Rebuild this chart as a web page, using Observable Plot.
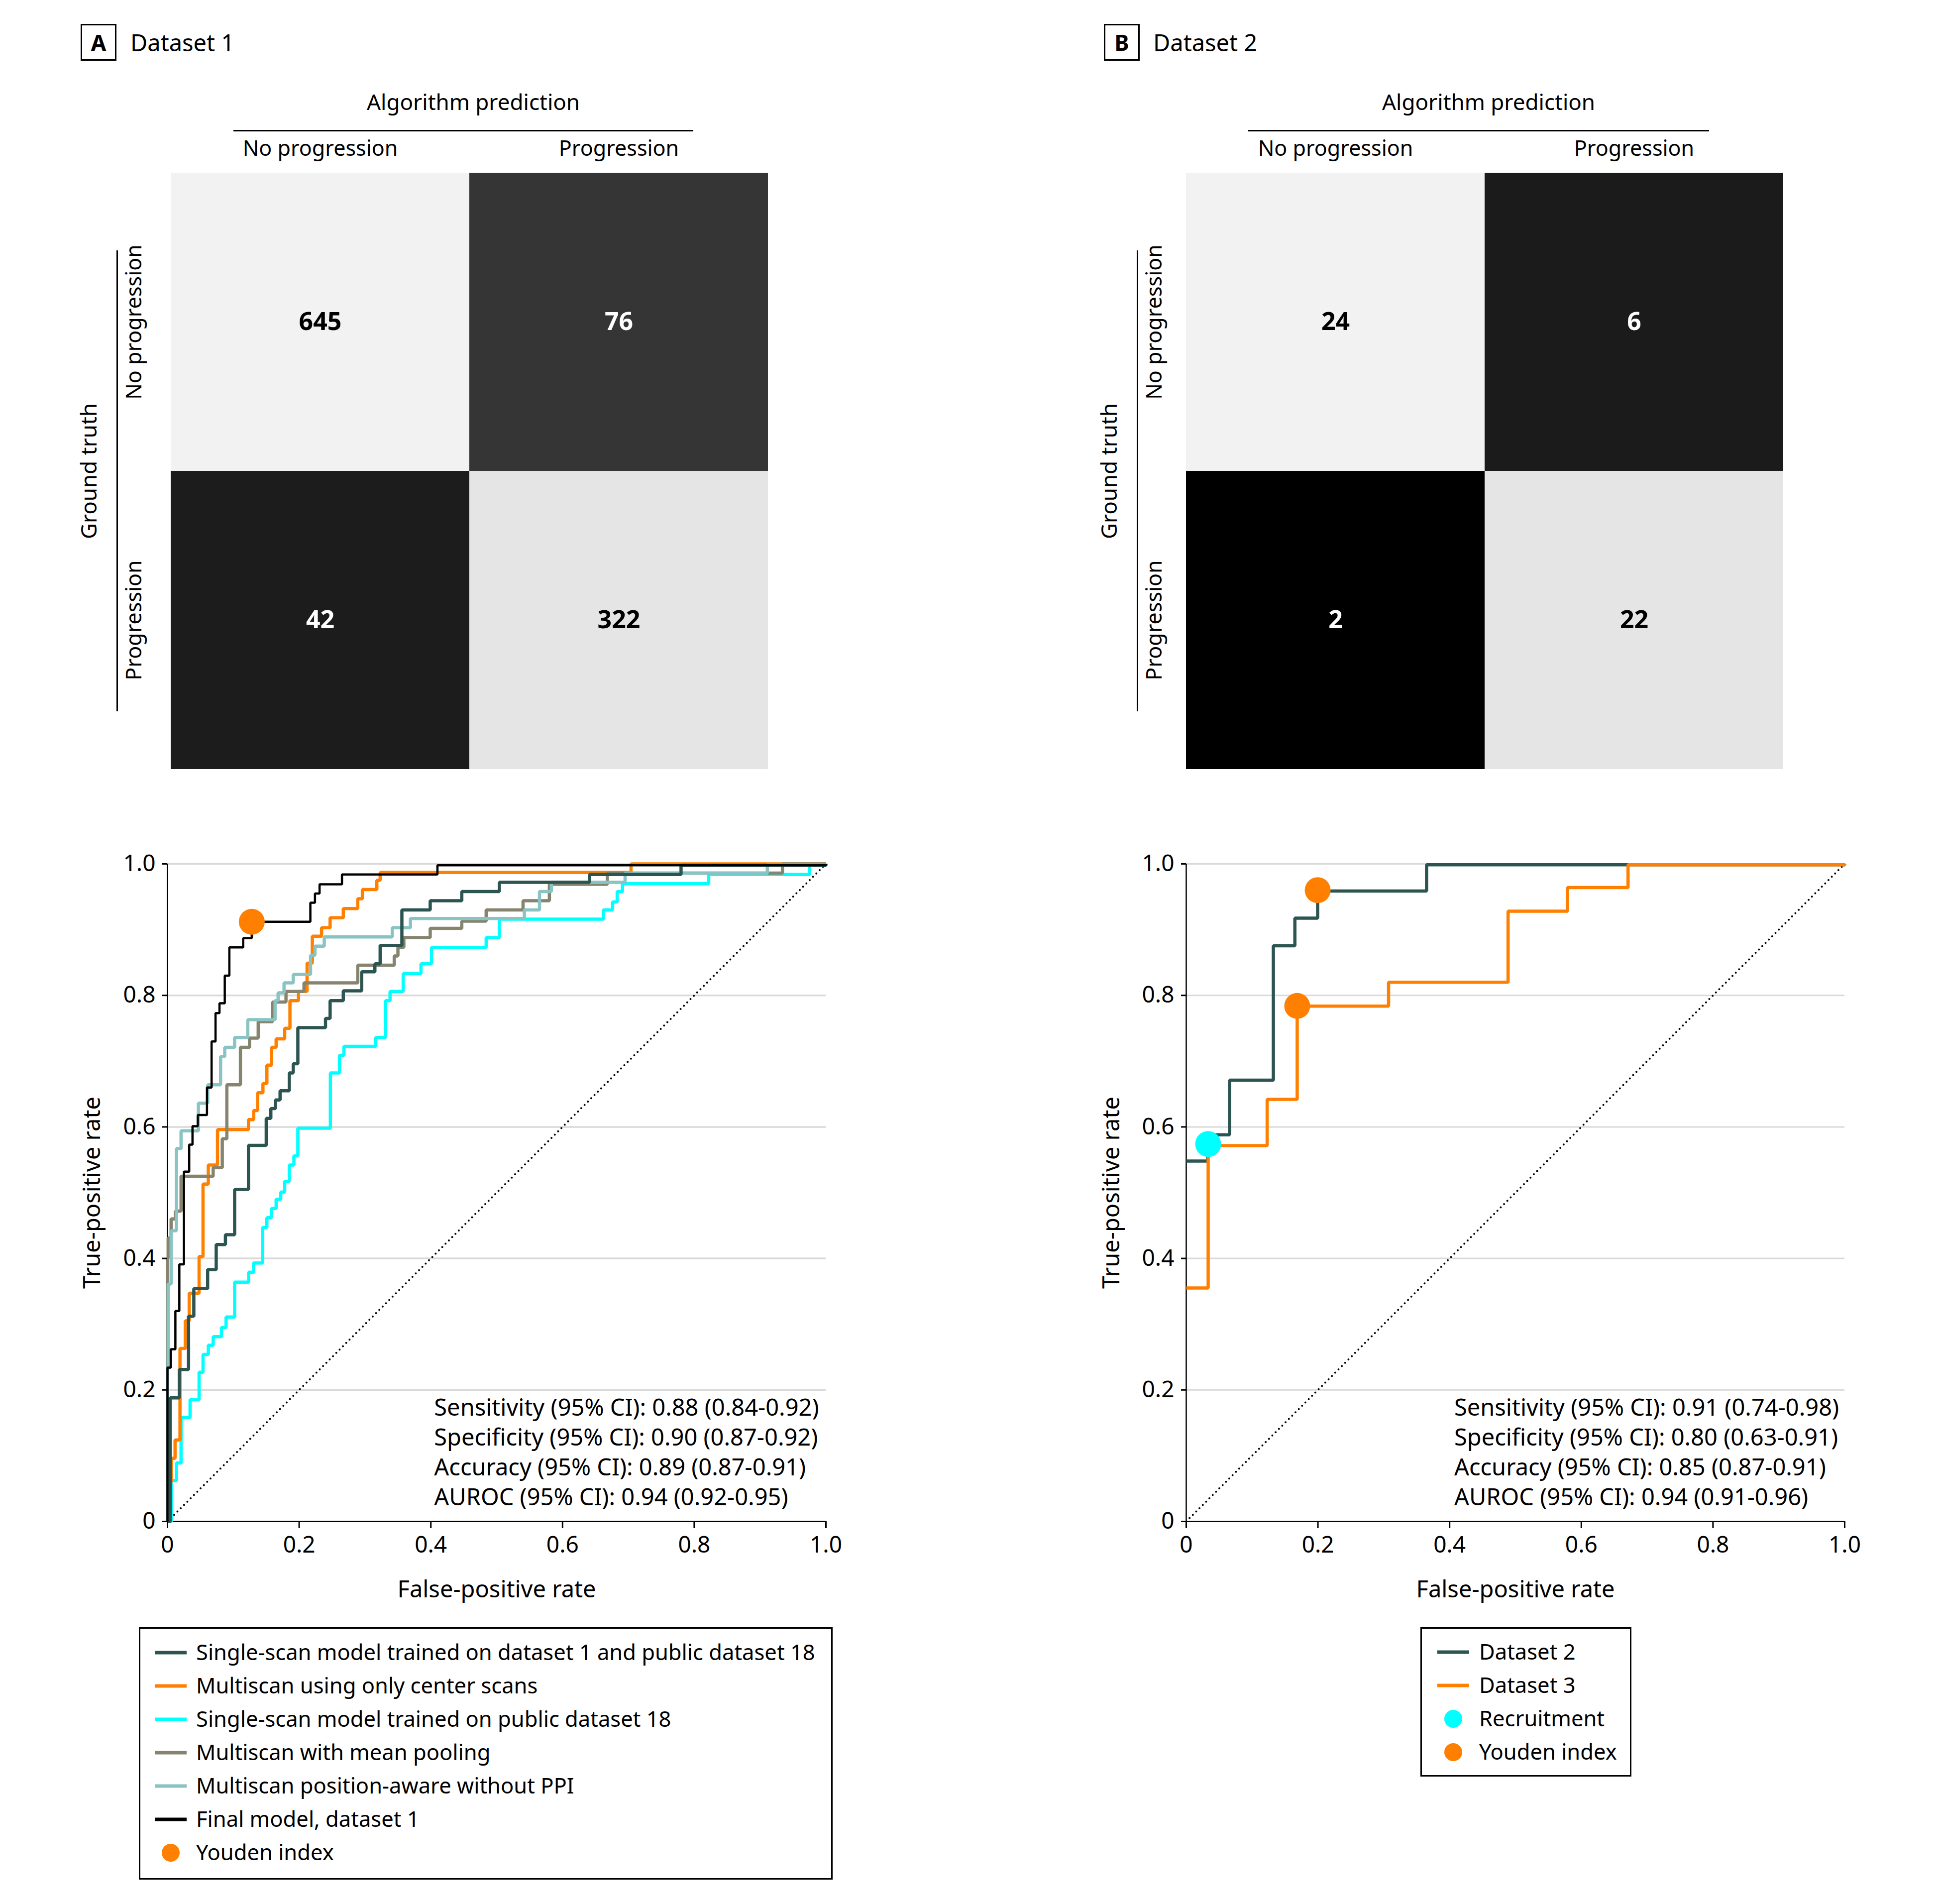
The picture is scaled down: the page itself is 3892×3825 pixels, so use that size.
<!DOCTYPE html>
<html><head><meta charset="utf-8">
<script src="https://cdn.jsdelivr.net/npm/d3@7"></script>
<script src="https://cdn.jsdelivr.net/npm/@observablehq/plot@0.6"></script>
<style>
html,body{margin:0;padding:0;background:#fff;}
#page{position:relative;width:3892px;height:3825px;background:#fff;font-family:"Noto Sans",sans-serif;color:#000;overflow:hidden}
.box{position:absolute;box-sizing:border-box;border:3px solid #000;display:flex;align-items:center;justify-content:center;font-weight:700;font-size:44px;}
.ttl{position:absolute;font-size:47px;line-height:60px;white-space:nowrap}
.rule{position:absolute;background:#000}
</style></head><body><div id="page"></div>
<script>
// ---------------- DATA ----------------
const panelLetters = ["A", "B"];
const panelTitles = ["Dataset 1", "Dataset 2"];
const predLabels = ["No progression", "Progression"];
const truthLabels = ["No progression", "Progression"];
const predHeader = "Algorithm prediction";
const truthHeader = "Ground truth";
// rows = ground truth, columns = algorithm prediction
const confusionA = [[645, 76], [42, 322]];
const confusionB = [[24, 6], [2, 22]];

const axisTicks = [0, 0.2, 0.4, 0.6, 0.8, 1.0];
const gridValues = [0.2, 0.4, 0.6, 0.8, 1.0];
const xTitle = "False-positive rate";
const yTitle = "True-positive rate";
const chanceLine = [[0, 0], [1, 1]];

// Panel A ROC curves: [false-positive rate, true-positive rate] step corners
const singleScanD1Public = [[0,0],[0.004,0.188],[0.018,0.231],[0.032,0.312],[0.040,0.354],[0.061,0.383],[0.074,0.421],[0.088,0.436],[0.102,0.505],[0.123,0.572],[0.150,0.613],[0.157,0.628],[0.164,0.641],[0.171,0.655],[0.185,0.682],[0.191,0.696],[0.198,0.751],[0.240,0.765],[0.247,0.792],[0.267,0.807],[0.295,0.836],[0.315,0.848],[0.323,0.876],[0.356,0.930],[0.399,0.944],[0.447,0.958],[0.504,0.972],[0.641,0.984],[0.78,0.998],[1,1]];
const multiscanCenter = [[0,0],[0.004,0.06],[0.006,0.096],[0.0115,0.124],[0.019,0.263],[0.027,0.305],[0.033,0.347],[0.048,0.403],[0.054,0.513],[0.062,0.542],[0.076,0.596],[0.123,0.611],[0.131,0.625],[0.137,0.652],[0.145,0.666],[0.151,0.694],[0.158,0.721],[0.165,0.734],[0.178,0.750],[0.186,0.792],[0.199,0.806],[0.212,0.849],[0.220,0.890],[0.234,0.903],[0.247,0.918],[0.267,0.932],[0.289,0.947],[0.296,0.961],[0.318,0.975],[0.323,0.987],[0.704,1],[1,1]];
const singleScanPublic = [[0,0],[0.006,0.062],[0.0135,0.089],[0.0206,0.158],[0.0343,0.185],[0.048,0.227],[0.054,0.254],[0.062,0.268],[0.0694,0.281],[0.0819,0.295],[0.089,0.311],[0.102,0.364],[0.1233,0.379],[0.1308,0.393],[0.1446,0.447],[0.151,0.462],[0.158,0.476],[0.165,0.490],[0.172,0.501],[0.178,0.517],[0.185,0.542],[0.192,0.556],[0.198,0.598],[0.2474,0.682],[0.2612,0.709],[0.268,0.7226],[0.3163,0.736],[0.3313,0.792],[0.338,0.806],[0.358,0.833],[0.385,0.848],[0.401,0.873],[0.484,0.888],[0.504,0.916],[0.662,0.930],[0.676,0.942],[0.683,0.958],[0.691,0.970],[0.822,0.984],[0.975,0.998],[1,1]];
const multiscanMean = [[0,0],[0,0.40],[0.001,0.431],[0.0055,0.46],[0.012,0.472],[0.0206,0.525],[0.0694,0.538],[0.0832,0.582],[0.0902,0.664],[0.1108,0.721],[0.1246,0.735],[0.1378,0.760],[0.1597,0.790],[0.180,0.806],[0.2073,0.819],[0.289,0.846],[0.3444,0.860],[0.350,0.873],[0.359,0.888],[0.399,0.902],[0.447,0.913],[0.484,0.930],[0.54,0.944],[0.58,0.969],[0.668,0.986],[0.934,1],[1,1]];
const multiscanPosition = [[0,0],[0,0.232],[0.001,0.361],[0.0055,0.442],[0.0135,0.567],[0.0206,0.594],[0.0469,0.636],[0.0612,0.664],[0.0807,0.707],[0.087,0.721],[0.102,0.736],[0.122,0.763],[0.1634,0.792],[0.168,0.804],[0.177,0.819],[0.191,0.832],[0.2173,0.861],[0.224,0.875],[0.2381,0.889],[0.3414,0.903],[0.369,0.917],[0.542,0.930],[0.565,0.958],[0.583,0.972],[0.695,0.986],[0.911,0.999],[1,1]];
const finalModel = [[0,0],[0,0.234],[0.005,0.262],[0.012,0.32],[0.018,0.391],[0.025,0.532],[0.033,0.573],[0.038,0.601],[0.046,0.618],[0.060,0.660],[0.067,0.730],[0.073,0.773],[0.079,0.788],[0.087,0.830],[0.094,0.873],[0.115,0.887],[0.128,0.912],[0.217,0.941],[0.224,0.955],[0.231,0.969],[0.265,0.984],[0.41,0.998],[1,1]];
const youdenA = [[0.128, 0.912]];

// Panel B ROC curves
const dataset2 = [[0,0.548],[0.0325,0.588],[0.0658,0.671],[0.1323,0.8755],[0.165,0.9175],[0.1996,0.9588],[0.365,0.9986],[1,1]];
const dataset3 = [[0,0.355],[0.0333,0.5716],[0.1229,0.642],[0.1685,0.7836],[0.3073,0.82],[0.4888,0.928],[0.579,0.964],[0.671,0.9986],[1,1]];
const youdenB = [[0.1996, 0.96], [0.1685, 0.784]];
const recruitmentB = [[0.0333, 0.574]];

const seriesNamesA = ["Single-scan model trained on dataset 1 and public dataset 18", "Multiscan using only center scans", "Single-scan model trained on public dataset 18", "Multiscan with mean pooling", "Multiscan position-aware without PPI", "Final model, dataset 1", "Youden index"];
const seriesNamesB = ["Dataset 2", "Dataset 3", "Recruitment", "Youden index"];

const statsA = ["Sensitivity (95% CI): 0.88 (0.84-0.92)", "Specificity (95% CI): 0.90 (0.87-0.92)", "Accuracy (95% CI): 0.89 (0.87-0.91)", "AUROC (95% CI): 0.94 (0.92-0.95)"];
const statsB = ["Sensitivity (95% CI): 0.91 (0.74-0.98)", "Specificity (95% CI): 0.80 (0.63-0.91)", "Accuracy (95% CI): 0.85 (0.87-0.91)", "AUROC (95% CI): 0.94 (0.91-0.96)"];

// ---------------- STYLE ----------------
const FONT = '"Noto Sans", "Open Sans", sans-serif';
const colorsA = ["#2c5552", "#ff8000", "#00ffff", "#86846f", "#89c3c3", "#000000", "#ff8000"];
const colorsB = ["#2c5552", "#ff8000", "#00ffff", "#ff8000"];
const cellColorsA = ["#1c1c1c", "#353535", "#e5e5e5", "#f2f2f2"];
const cellColorsB = ["#000000", "#1b1b1b", "#e5e5e5", "#f2f2f2"];
const CELLW = 1201, CELLH = 1198;   // heatmap frame
const ROCW = 1323, ROCH = 1321;     // ROC frame

const page = document.getElementById("page");
function place(node, left, top) {
  node.style.position = "absolute";
  node.style.left = left + "px";
  node.style.top = top + "px";
  page.appendChild(node);
}
function div(cls, left, top, w, h, text) {
  const d = document.createElement("div");
  d.className = cls;
  d.style.left = left + "px"; d.style.top = top + "px";
  if (w != null) d.style.width = w + "px";
  if (h != null) d.style.height = h + "px";
  if (text != null) d.textContent = text;
  page.appendChild(d);
  return d;
}
const baseStyle = {fontFamily: FONT, fontSize: "46px", color: "#000", background: "transparent", overflow: "visible"};

// ---------------- CONFUSION MATRICES ----------------
function confusionPlot(cm, cellColors, o) {
  const cells = [];
  truthLabels.forEach((t, i) => predLabels.forEach((p, j) => cells.push({truth: t, pred: p, value: cm[i][j]})));
  const ranked = cells.map(d => d.value).sort((a, b) => a - b);
  const darkMax = ranked[1];
  return Plot.plot({
    width: o.marginLeft + CELLW + 10, height: 197 + CELLH + 10,
    marginLeft: o.marginLeft, marginRight: 10, marginTop: 197, marginBottom: 10,
    style: baseStyle,
    x: {domain: predLabels, padding: 0, axis: null},
    y: {domain: truthLabels, padding: 0, axis: null},
    color: {type: "ordinal", domain: ranked, range: cellColors},
    marks: [
      Plot.cell(cells, {x: "pred", y: "truth", fill: "value", inset: 0}),
      Plot.text(cells, {filter: d => d.value <= darkMax, x: "pred", y: "truth", text: d => String(d.value), fill: "#fff", fontWeight: 700, fontSize: 50}),
      Plot.text(cells, {filter: d => d.value > darkMax, x: "pred", y: "truth", text: d => String(d.value), fill: "#000", fontWeight: 700, fontSize: 50}),
      Plot.text(predLabels, {x: d => d, text: d => d, frameAnchor: "top", dy: -48, fontSize: 43, textAnchor: "middle", lineAnchor: "middle"}),
      Plot.text([predHeader], {text: d => d, frameAnchor: "top", dy: -141, dx: 8, fontSize: 44, textAnchor: "middle", lineAnchor: "middle"}),
      Plot.text(truthLabels, {y: d => d, text: d => d, frameAnchor: "left", dx: o.rowDx, rotate: -90, fontSize: 43, textAnchor: "middle", lineAnchor: "middle"}),
      Plot.text([truthHeader], {text: d => d, frameAnchor: "left", dx: o.titleDx, rotate: -90, fontSize: 44, textAnchor: "middle", lineAnchor: "middle"})
    ]
  });
}

// ---------------- ROC ----------------
const tickFmt = d => d === 0 ? "0" : d3.format(".1f")(d);
function rocPlot(o) {
  const marks = [
    Plot.ruleY(gridValues, {stroke: "#d9d9d9", strokeWidth: o.gridW}),
    Plot.ruleY([0], {stroke: "#000", strokeWidth: o.axisW}),
    Plot.ruleX([0], {stroke: "#000", strokeWidth: o.axisW}),
    Plot.line(chanceLine, {x: d => d[0], y: d => d[1], stroke: "#000", strokeWidth: 4, strokeDasharray: "0 9.4", strokeLinecap: "round"})
  ];
  for (const s of o.lines) {
    marks.push(Plot.line(s.points, {x: d => d[0], y: d => d[1], stroke: () => s.name, strokeWidth: s.width, curve: "step-after", strokeLinejoin: "miter", strokeLinecap: "butt"}));
  }
  marks.push(
    Plot.axisX({ticks: axisTicks, tickFormat: tickFmt, tickSize: 14, tickPadding: 16, strokeWidth: 3, label: null, fontSize: 46}),
    Plot.axisY({ticks: axisTicks, tickFormat: tickFmt, tickSize: 10, tickPadding: 14, strokeWidth: 3, label: null, fontSize: 46})
  );
  for (const p of o.dots) {
    marks.push(Plot.dot(p.points, {x: d => d[0], y: d => d[1], r: 26, fill: () => p.name, stroke: "none"}));
  }
  marks.push(
    Plot.text([o.stats.join("\n")], {x: () => o.statsX, y: () => 0.107, text: d => d, textAnchor: "start", lineAnchor: "middle", lineHeight: 60 / 47, fontSize: 47}),
    Plot.text([xTitle], {text: d => d, frameAnchor: "bottom", dy: 137, fontSize: 47, textAnchor: "middle", lineAnchor: "middle"}),
    Plot.text([yTitle], {text: d => d, frameAnchor: "left", dx: o.yTitleDx, rotate: -90, fontSize: 47, textAnchor: "middle", lineAnchor: "middle"})
  );
  return Plot.plot({
    width: o.marginLeft + ROCW + 60, height: 85 + ROCH + 200,
    marginLeft: o.marginLeft, marginRight: 60, marginTop: 85, marginBottom: 200,
    style: baseStyle,
    x: {domain: [0, 1]},
    y: {domain: [0, 1]},
    color: {domain: o.names, range: o.colors},
    marks
  });
}

// ---------------- LEGENDS ----------------
function legendBox(left, top, w, h, names, colors, kinds, o) {
  const svg = d3.create("svg").attr("width", w).attr("height", h)
    .style("font-family", FONT).style("font-size", "43.5px");
  svg.append("rect").attr("x", 1.5).attr("y", 1.5).attr("width", w - 3).attr("height", h - 3)
    .attr("fill", "#fff").attr("stroke", "#000").attr("stroke-width", 3);
  names.forEach((name, i) => {
    const y = o.y0 + i * o.dy;
    if (kinds[i] === "line") {
      svg.append("line").attr("x1", o.sx0).attr("x2", o.sx1).attr("y1", y).attr("y2", y)
        .attr("stroke", colors[i]).attr("stroke-width", 7);
    } else {
      svg.append("circle").attr("cx", (o.sx0 + o.sx1) / 2).attr("cy", y).attr("r", 18).attr("fill", colors[i]);
    }
    svg.append("text").attr("x", o.tx).attr("y", y).attr("dy", "0.35em").attr("fill", "#000").text(name);
  });
  place(svg.node(), left, top);
}

// ---------------- BUILD ----------------
div("box", 162, 48, 72, 74, panelLetters[0]);
div("ttl", 262, 55, null, null, panelTitles[0]);
div("box", 2218, 48, 72, 74, panelLetters[1]);
div("ttl", 2317, 55, null, null, panelTitles[1]);

div("rule", 469, 261, 924, 3);
div("rule", 234, 503, 3, 926);
div("rule", 2508, 261, 926, 3);
div("rule", 2284, 503, 3, 926);

place(confusionPlot(confusionA, cellColorsA, {marginLeft: 192, rowDx: -72, titleDx: -163}), 150, 150);
place(confusionPlot(confusionB, cellColorsB, {marginLeft: 182, rowDx: -62, titleDx: -153}), 2200, 150);

place(rocPlot({
  marginLeft: 186, gridW: 3.5, axisW: 3, statsX: 0.405, yTitleDx: -151,
  names: seriesNamesA, colors: colorsA, stats: statsA,
  lines: [
    {name: seriesNamesA[2], points: singleScanPublic, width: 6.5},
    {name: seriesNamesA[1], points: multiscanCenter, width: 6.5},
    {name: seriesNamesA[3], points: multiscanMean, width: 6.5},
    {name: seriesNamesA[4], points: multiscanPosition, width: 6.5},
    {name: seriesNamesA[0], points: singleScanD1Public, width: 6.5},
    {name: seriesNamesA[5], points: finalModel, width: 4.5}
  ],
  dots: [{name: seriesNamesA[6], points: youdenA}]
}), 150, 1650);

place(rocPlot({
  marginLeft: 183, gridW: 3, axisW: 2.5, statsX: 0.407, yTitleDx: -150,
  names: seriesNamesB, colors: colorsB, stats: statsB,
  lines: [
    {name: seriesNamesB[0], points: dataset2, width: 6.5},
    {name: seriesNamesB[1], points: dataset3, width: 6.5}
  ],
  dots: [{name: seriesNamesB[3], points: youdenB}, {name: seriesNamesB[2], points: recruitmentB}]
}), 2200, 1650);

legendBox(279, 3269, 1394, 507, seriesNamesA, colorsA, ["line","line","line","line","line","line","dot"], {y0: 51, dy: 67, sx0: 32, sx1: 96, tx: 115});
legendBox(2854, 3269, 424, 300, seriesNamesB, colorsB, ["line","line","dot","dot"], {y0: 50, dy: 67, sx0: 34, sx1: 98, tx: 118});
</script></body></html>
